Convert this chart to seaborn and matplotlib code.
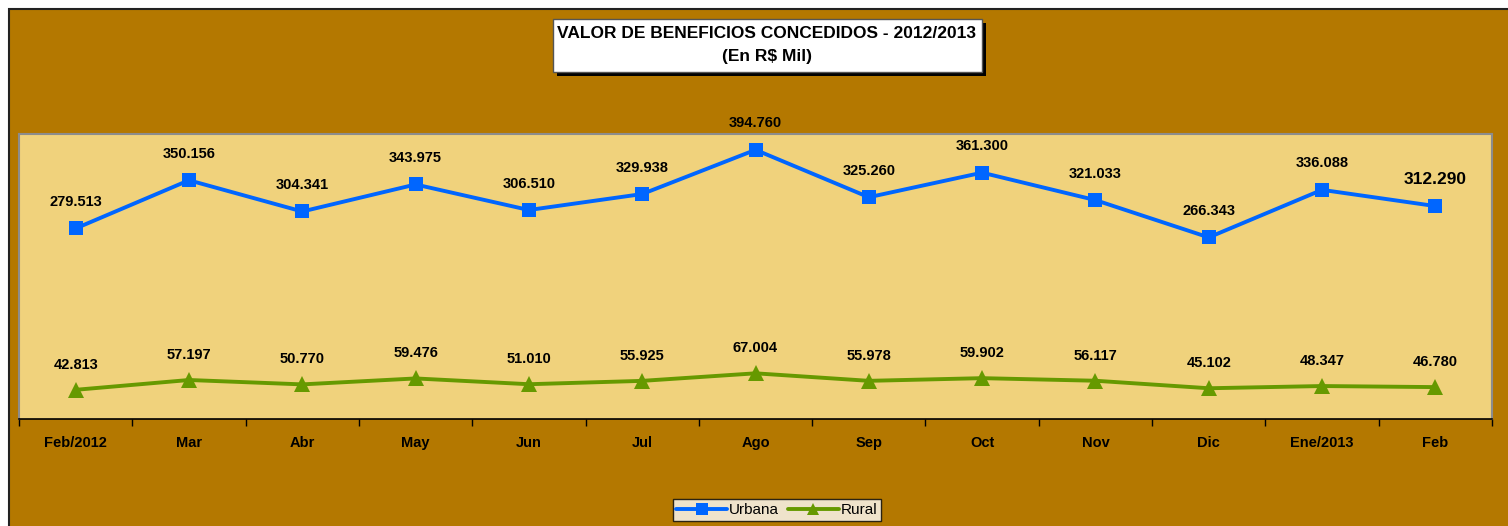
import numpy as np
import pandas as pd
import matplotlib.pyplot as plt
import seaborn as sns
from matplotlib.patches import Rectangle

# Data
months = ["Feb/2012", "Mar", "Abr", "May", "Jun", "Jul", "Ago",
          "Sep", "Oct", "Nov", "Dic", "Ene/2013", "Feb"]
urbana = [279.513, 350.156, 304.341, 343.975, 306.510, 329.938, 394.760,
          325.260, 361.300, 321.033, 266.343, 336.088, 312.290]
rural = [42.813, 57.197, 50.770, 59.476, 51.010, 55.925, 67.004,
         55.978, 59.902, 56.117, 45.102, 48.347, 46.780]

sns.set_style("white")
plt.rcParams['font.family'] = ['Liberation Sans', 'DejaVu Sans']
plt.rcParams['text.color'] = 'black'
plt.rcParams['xtick.color'] = 'black'
plt.rcParams['xtick.labelcolor'] = 'black'

W, H = 1508, 526
BG = '#B47800'
PLOT_BG = '#F0D27C'
BLUE = '#0066FF'
GREEN = '#669900'

fig = plt.figure(figsize=(W / 100, H / 100), dpi=100)
fig.patch.set_facecolor('white')

# outer brown frame
fig.add_artist(Rectangle((9 / W, -0.02), 1.05, 1 - 9 / H + 0.02,
                         transform=fig.transFigure, facecolor=BG,
                         edgecolor='#222222', lw=1.5, zorder=0))

ax = fig.add_axes([19 / W, 107 / H, 1473 / W, 285 / H])
ax.set_facecolor(PLOT_BG)

df = pd.DataFrame({"pos": np.arange(len(months)), "Urbana": urbana, "Rural": rural})

sns.lineplot(data=df, x="pos", y="Urbana", ax=ax, color=BLUE, lw=2.8,
             marker='s', markersize=10, markeredgewidth=0, label="Urbana")
sns.lineplot(data=df, x="pos", y="Rural", ax=ax, color=GREEN, lw=2.8,
             marker='^', markersize=11, markeredgewidth=0, label="Rural")

# value labels
for i, v in enumerate(urbana):
    fs = 12.5 if i == len(urbana) - 1 else 10.5
    ax.annotate(f"{v:.3f}", (i, v), xytext=(0, 19), textcoords='offset points',
                ha='center', va='center', fontsize=fs, fontweight='bold')
for i, v in enumerate(rural):
    ax.annotate(f"{v:.3f}", (i, v), xytext=(0, 18), textcoords='offset points',
                ha='center', va='center', fontsize=10.5, fontweight='bold')

ax.set_xlim(-0.5, len(months) - 0.5)
ax.set_ylim(0, 418)
ax.set_yticks([])
ax.set_xlabel("")
ax.set_ylabel("")

ax.set_xticks(np.arange(-0.5, len(months), 1))
ax.set_xticklabels([])
ax.tick_params(axis='x', which='major', bottom=True, direction='out',
               length=5, width=1, color='black')
ax.set_xticks(np.arange(len(months)), minor=True)
ax.set_xticklabels(months, minor=True, fontsize=10.5, fontweight='bold')
ax.tick_params(axis='x', which='minor', bottom=True, length=0, pad=12)

for s in ['top', 'left', 'right']:
    ax.spines[s].set_color('#8C8C8C')
    ax.spines[s].set_linewidth(1.5)
ax.spines['bottom'].set_color('black')
ax.spines['bottom'].set_linewidth(1.2)

ax.get_legend().remove()
handles, labels = ax.get_legend_handles_labels()
leg = fig.legend(handles, labels, loc='center', bbox_to_anchor=(777 / W, 16 / H),
                 ncol=2, frameon=True, fancybox=False, fontsize=11,
                 handlelength=3.3, handletextpad=0.15, columnspacing=0.6,
                 borderpad=0.25, markerscale=0.8)
leg.get_frame().set_edgecolor('black')
leg.get_frame().set_linewidth(1)
leg.get_frame().set_facecolor('white')

# title box with shadow
fig.add_artist(Rectangle((557 / W, 1 - 76 / H), 429 / W, 53 / H,
                         transform=fig.transFigure, facecolor='black',
                         edgecolor='none', zorder=2))
fig.add_artist(Rectangle((553 / W, 1 - 72 / H), 429 / W, 53 / H,
                         transform=fig.transFigure, facecolor='white',
                         edgecolor='#555555', lw=1, zorder=3))
fig.text(767 / W, 1 - 34 / H, "VALOR DE BENEFICIOS CONCEDIDOS - 2012/2013",
         ha='center', va='center', fontsize=12.5, fontweight='bold', zorder=4)
fig.text(767 / W, 1 - 57 / H, "(En R$ Mil)",
         ha='center', va='center', fontsize=12.5, fontweight='bold', zorder=4)

fig.savefig("out.png", dpi=100)
